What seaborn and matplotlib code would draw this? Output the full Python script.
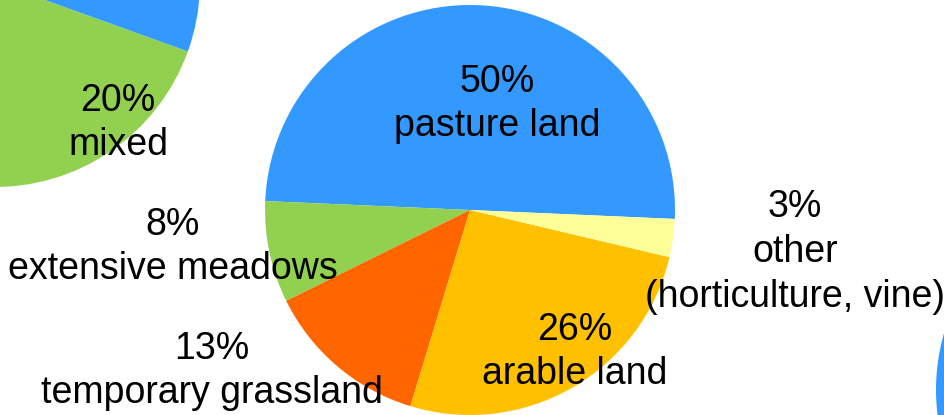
import matplotlib
matplotlib.use("Agg")
import matplotlib.pyplot as plt
import seaborn as sns

# ---- data ----
categories = ["pasture land", "extensive meadows", "temporary grassland",
              "arable land", "other\n(horticulture, vine)"]
shares = [50, 8, 13, 26, 3]
main_colors = ["#3399FF", "#92D050", "#FF6600", "#FFC000", "#FFFF99"]

left_categories = ["mixed", "rest"]
left_shares = [20, 80]
left_colors = ["#92D050", "#3399FF"]

right_shares = [100]
right_colors = ["#3399FF"]

sns.set_theme(style="white")
plt.rcParams['font.family'] = ['Liberation Sans', 'DejaVu Sans']

W, H = 945, 415
fig = plt.figure(figsize=(W / 100, H / 100), dpi=100)
ax = fig.add_axes([0, 0, 1, 1])

def Y(y):
    return H - y

pal = sns.color_palette(main_colors)
ax.pie(shares, colors=pal, startangle=-2.5, counterclock=True,
       center=(470, Y(210)), radius=205, frame=True,
       wedgeprops=dict(linewidth=0))

ax.pie(left_shares, colors=sns.color_palette(left_colors), startangle=-91.8,
       counterclock=True, center=(-5, Y(-18)), radius=205, frame=True,
       wedgeprops=dict(linewidth=0))

ax.pie(right_shares, colors=sns.color_palette(right_colors), startangle=0,
       center=(1141, Y(390)), radius=205, frame=True,
       wedgeprops=dict(linewidth=0))

fs = 27
def lab(x, y, s):
    ax.text(x, Y(y), s, ha="center", va="center", multialignment="center",
            fontsize=fs, color="black", linespacing=1.32)

lab(497, 104, f"{shares[0]}%\n{categories[0]}")
lab(118, 123, f"{left_shares[0]}%\n{left_categories[0]}")
lab(173, 247, f"{shares[1]}%\n{categories[1]}")
lab(212, 371, f"{shares[2]}%\n{categories[2]}")
lab(575, 352, f"{shares[3]}%\n{categories[3]}")
lab(795, 252, f"{shares[4]}%\n{categories[4]}")

ax.set_xlim(0, W)
ax.set_ylim(0, H)
ax.set_aspect("equal")
ax.axis("off")
fig.savefig("out.png", dpi=100, facecolor="white")
